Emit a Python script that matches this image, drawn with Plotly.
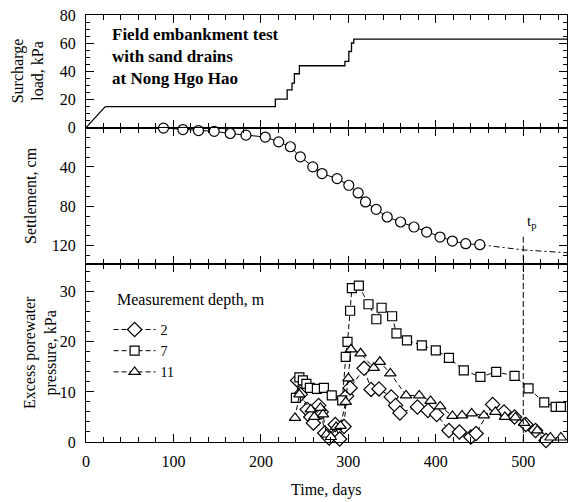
import plotly.graph_objects as go

# ---------------- data ----------------
# surcharge load
ramp_days = [0, 22]
ramp_load = [0, 15]
step_days = [22, 216.5, 230, 235.6, 238.3, 244, 296, 300.5, 303.6, 306.2, 550]
step_load = [15, 20.3, 27, 31.8, 38.5, 44.2, 47.3, 54.4, 60.5, 63.3, 63.3]

# settlement
sett_days = [88.6, 110.8, 128.6, 146.6, 164.9, 182.9, 205, 220.3, 233.7, 245.1, 259.3,
             269.9, 287.1, 300.5, 311.2, 319.6, 331.8, 344.4, 359.7, 375, 389.5, 404.8,
             418.9, 434.2, 450.3]
sett_cm = [0.5, 2, 3, 3.8, 6, 7.7, 9.6, 14.5, 19.5, 29.8, 40, 46.8, 51.9, 58.7, 66.5,
           75.7, 83.2, 91, 96.1, 101.2, 106.3, 111.4, 115.5, 118.2, 119.2]
fit_days = [450.3, 500, 550]
fit_cm = [119.2, 124.5, 127.4]
tp_day = 500
tp_sett = 124.5

# excess porewater pressure
d2_days = [242, 245, 253, 257, 260, 266, 269, 273, 278, 285, 290, 295, 298, 302, 318, 326,
           335, 349, 354, 359, 379, 391, 401, 415, 427, 440, 446, 465, 478, 490, 503, 514, 526]
d2_kpa = [12.3, 9.5, 6.5, 5.0, 3.8, 7.3, 6.0, 1.8, 0.8, 3.5, 0.6, 3.1, 9.2, 10.8, 14.7, 10.5,
          10.6, 9.0, 7.3, 5.8, 7.0, 6.3, 5.5, 2.3, 2.0, 1.0, 1.7, 7.5, 6.0, 5.0, 3.5, 2.3, 0.3]

d7_days = [240, 244, 248, 252, 256, 264, 272, 281, 293, 297, 299, 302, 304, 312, 323, 332,
           338, 350, 355, 367, 384, 400, 415, 432, 451, 469, 490, 506, 524, 537, 543]
d7_kpa = [8.8, 12.9, 12.3, 11.6, 10.8, 10.6, 10.8, 9.3, 8.3, 17.0, 20.0, 26.2, 30.7, 31.2,
          27.5, 24.5, 26.8, 25.1, 21.7, 20.3, 19.3, 18.3, 16.8, 14.3, 13.0, 14.0, 13.2, 10.7,
          7.9, 7.0, 7.0]

d11_days = [239, 244, 257, 261, 268, 271, 275, 280, 286, 291, 297, 300, 303, 314, 329, 336,
            348, 366, 381, 394, 405, 419, 430, 441, 455, 468, 479, 491, 501, 516, 531, 543]
d11_kpa = [4.8, 9.5, 6.5, 5.0, 6.8, 5.5, 1.5, 1.0, 3.0, 3.2, 8.0, 12.7, 18.5, 17.7, 14.8, 16.0,
           13.7, 9.3, 9.3, 8.2, 7.1, 5.2, 5.3, 5.7, 5.3, 6.0, 5.0, 4.9, 3.8, 2.3, 0.9, 0.9]

# ---------------- figure ----------------
FONT = "Liberation Serif, Times New Roman, serif"
fig = go.Figure()

fig.add_trace(go.Scatter(x=ramp_days, y=ramp_load, mode="lines", xaxis="x", yaxis="y",
                         line=dict(color="black", width=1.3), showlegend=False))
fig.add_trace(go.Scatter(x=step_days, y=step_load, mode="lines", xaxis="x", yaxis="y",
                         line=dict(color="black", width=1.3, shape="hv"), showlegend=False))

fig.add_trace(go.Scatter(x=fit_days, y=fit_cm, mode="lines", xaxis="x2", yaxis="y2",
                         line=dict(color="black", width=1, dash="6px,3px,2px,3px"),
                         showlegend=False))
fig.add_trace(go.Scatter(x=sett_days, y=sett_cm, mode="lines+markers", xaxis="x2", yaxis="y2",
                         line=dict(color="black", width=1),
                         marker=dict(symbol="circle", size=10, color="white",
                                     line=dict(color="black", width=1.2)),
                         cliponaxis=False, showlegend=False))

series = [("2", d2_days, d2_kpa, "diamond", 11),
          ("7", d7_days, d7_kpa, "square", 9),
          ("11", d11_days, d11_kpa, "triangle-up", 10)]
for name, xs, ys, sym, sz in series:
    fig.add_trace(go.Scatter(x=xs, y=ys, mode="lines+markers", name=name,
                             xaxis="x3", yaxis="y3",
                             line=dict(color="black", width=1, dash="5px,3px"),
                             marker=dict(symbol=sym, size=sz, color="white",
                                         line=dict(color="black", width=1.2)),
                             cliponaxis=False))

axis_common = dict(showline=True, linecolor="black", linewidth=1, mirror="allticks",
                   ticks="inside", ticklen=8, tickcolor="black", tickwidth=1,
                   showgrid=False, zeroline=False,
                   tickfont=dict(family=FONT, size=16, color="black"))

def xax(anchor, labels):
    d = dict(axis_common)
    d.update(domain=[0, 1], anchor=anchor, range=[0, 550], dtick=100, tick0=0,
             showticklabels=labels, ticklabelstandoff=5,
             minor=dict(ticks="inside", ticklen=5, dtick=20, tickcolor="black", tickwidth=1))
    return d

dom3 = [0, 0.4165]
dom2 = [0.4165, 0.7363]
dom1 = [0.7363, 1]

y1 = dict(axis_common); y1.update(domain=dom1, anchor="x", range=[0, 80.5], tickvals=[0, 20, 40, 60, 80],
                                  ticklabelstandoff=6,
                                  minor=dict(ticks="inside", ticklen=4, dtick=5, tickcolor="black"))
y2 = dict(axis_common); y2.update(domain=dom2, anchor="x2", range=[139, 0], tickvals=[40, 80, 120],
                                  ticklabelstandoff=6,
                                  minor=dict(ticks="inside", ticklen=4, dtick=10, tick0=0, tickcolor="black"))
y3 = dict(axis_common); y3.update(domain=dom3, anchor="x3", range=[0, 35.5], tickvals=[0, 10, 20, 30],
                                  ticklabelstandoff=6,
                                  minor=dict(ticks="inside", ticklen=4, dtick=2, tick0=0, tickcolor="black"))

fig.update_layout(
    width=571, height=502,
    margin=dict(l=86, r=4, t=15, b=60),
    paper_bgcolor="white", plot_bgcolor="white",
    font=dict(family=FONT, size=16, color="black"),
    xaxis=xax("y", False), xaxis2=xax("y2", False), xaxis3=xax("y3", True),
    yaxis=y1, yaxis2=y2, yaxis3=y3,
    legend=dict(x=0.047, y=0.300, xanchor="left", yanchor="top",
                bgcolor="rgba(0,0,0,0)", font=dict(family=FONT, size=14),
                tracegroupgap=0, itemwidth=42),
)

# t_p vertical dashed line
fig.add_shape(type="line", xref="x2", yref="y2", x0=tp_day, x1=tp_day, y0=111, y1=139,
              line=dict(color="black", width=1, dash="6px,3px"))
fig.add_shape(type="line", xref="x3", yref="y3", x0=tp_day, x1=tp_day, y0=0, y1=35.5,
              line=dict(color="black", width=1, dash="6px,3px"))

ann = []
ann.append(dict(xref="x", yref="y", x=27.5, y=50.8, xanchor="left", yanchor="middle", align="left",
                showarrow=False,
                text="<b>Field embankment test<br>with sand drains<br>at Nong Hgo Hao</b>",
                font=dict(family=FONT, size=17)))
ann.append(dict(xref="x2", yref="y2", x=tp_day + 2, y=96, xanchor="left", yanchor="middle",
                showarrow=False, text="t<sub>p</sub>", font=dict(family=FONT, size=15)))
ann.append(dict(xref="paper", yref="paper", x=0.06, y=0.332, xanchor="left", yanchor="middle",
                showarrow=False, text="Measurement depth, m", font=dict(family=FONT, size=16)))
# axis titles
ann.append(dict(xref="paper", yref="paper", x=0, xshift=-58, y=(dom1[0] + dom1[1]) / 2,
                xanchor="center", yanchor="middle", textangle=-90, showarrow=False,
                text="Surcharge<br>load, kPa", font=dict(family=FONT, size=16)))
ann.append(dict(xref="paper", yref="paper", x=0, xshift=-55, y=(dom2[0] + dom2[1]) / 2,
                xanchor="center", yanchor="middle", textangle=-90, showarrow=False,
                text="Settlement, cm", font=dict(family=FONT, size=16)))
ann.append(dict(xref="paper", yref="paper", x=0, xshift=-46, y=(dom3[0] + dom3[1]) / 2,
                xanchor="center", yanchor="middle", textangle=-90, showarrow=False,
                text="Excess porewater<br>pressure, kPa", font=dict(family=FONT, size=16)))
ann.append(dict(xref="paper", yref="paper", x=0.5, y=0, yshift=-48, xanchor="center",
                yanchor="middle", showarrow=False, text="Time, days",
                font=dict(family=FONT, size=16)))
fig.update_layout(annotations=ann)

fig.write_html("out.html", config={"displayModeBar": False},
               post_script="document.body.style.margin='0';")
